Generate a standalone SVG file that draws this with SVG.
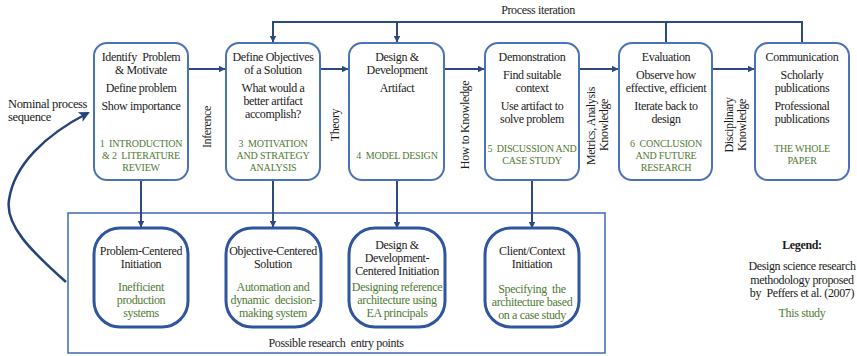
<svg xmlns="http://www.w3.org/2000/svg" width="857" height="356" viewBox="0 0 857 356" font-family="'Liberation Serif', 'Times New Roman', 'DejaVu Serif', serif">
<defs>
<marker id="ah" markerWidth="7" markerHeight="7" refX="6.5" refY="3.5" orient="auto" markerUnits="userSpaceOnUse">
<path d="M0,0 L7,3.5 L0,7 Z" fill="#2C4A80"/>
</marker>
<marker id="ahb" markerWidth="11" markerHeight="11" refX="9" refY="5.5" orient="auto" markerUnits="userSpaceOnUse">
<path d="M0,0 L11,5.5 L0,11 L3,5.5 Z" fill="#25427A"/>
</marker>
</defs>
<style>
text{font-family:'Liberation Serif','Times New Roman',serif;font-size:12px;letter-spacing:-0.35px;fill:#1a1a1a;text-anchor:middle}
.g{fill:#4E7A32}
.gs{font-size:10px;letter-spacing:-0.2px;fill:#4E7A32}
.lb{font-weight:bold}
.st{text-anchor:start}
.box{fill:#fff;stroke:#4A72B8;stroke-width:2}
.rbox{fill:#fff;stroke:#2F55A0;stroke-width:3}
.frame{fill:none;stroke:#4A72B8;stroke-width:1.6}
.con{fill:none;stroke:#2C4A80;stroke-width:2}
</style>
<rect width="857" height="356" fill="#fff"/>

<g id="entry-frame">
<rect class="frame" x="68" y="213" width="537" height="140"/>
<text x="336" y="347">Possible research&#160; entry points</text>
</g>

<g id="connectors">
<path class="con" d="M273,43 V22 H802 V43"/>
<path class="con" d="M273,22 V42" marker-end="url(#ah)"/>
<path class="con" d="M397,22 V42" marker-end="url(#ah)"/>
<path class="con" d="M666,22 V43"/>
<path class="con" d="M188,69 H225" marker-end="url(#ah)"/>
<path class="con" d="M320,69 H348" marker-end="url(#ah)"/>
<path class="con" d="M444,69 H484" marker-end="url(#ah)"/>
<path class="con" d="M579,69 H618" marker-end="url(#ah)"/>
<path class="con" d="M712,69 H754" marker-end="url(#ah)"/>
<path class="con" d="M141,180 V227" marker-end="url(#ah)"/>
<path class="con" d="M273,180 V227" marker-end="url(#ah)"/>
<path class="con" d="M397,180 V228" marker-end="url(#ah)"/>
<path class="con" d="M532,180 V228" marker-end="url(#ah)"/>
<path fill="none" stroke="#25427A" stroke-width="2.5" d="M66,282 C30,250 5,225 9,200 C14,165 45,135 88,113" marker-end="url(#ahb)"/>
<text x="538" y="14">Process iteration</text>
<text class="st" x="8" y="108" style="font-size:12.5px">Nominal process</text>
<text class="st" x="8" y="121" style="font-size:12.5px">sequence</text>
<text transform="translate(211,127) rotate(-90)">Inference</text>
<text transform="translate(339,125) rotate(-90)">Theory</text>
<text transform="translate(469,125) rotate(-90)">How to Knowledge</text>
<text transform="translate(595,126) rotate(-90)">Metrics, Analysis</text>
<text transform="translate(608,125) rotate(-90)">Knowledge</text>
<text transform="translate(733,125) rotate(-90)">Disciplinary</text>
<text transform="translate(746,125) rotate(-90)">Knowledge</text>
</g>

<g id="identify">
<rect class="box" x="94" y="43" width="94" height="137" rx="13"/>
<text x="141" y="61">Identify&#160; Problem</text>
<text x="141" y="74">&amp; Motivate</text>
<text x="141" y="92">Define problem</text>
<text x="141" y="110">Show importance</text>
<text class="gs" x="141" y="147">1&#160; INTRODUCTION</text>
<text class="gs" x="141" y="159">&amp; 2&#160; LITERATURE</text>
<text class="gs" x="141" y="171">REVIEW</text>
</g>

<g id="objectives">
<rect class="box" x="226" y="43" width="94" height="137" rx="13"/>
<text x="273" y="61">Define Objectives</text>
<text x="273" y="74">of a Solution</text>
<text x="273" y="92">What would a</text>
<text x="273" y="105">better artifact</text>
<text x="273" y="118">accomplish?</text>
<text class="gs" x="273" y="147">3&#160; MOTIVATION</text>
<text class="gs" x="273" y="159">AND STRATEGY</text>
<text class="gs" x="273" y="171">ANALYSIS</text>
</g>

<g id="design">
<rect class="box" x="349" y="43" width="95" height="137" rx="13"/>
<text x="397" y="61">Design &amp;</text>
<text x="397" y="74">Development</text>
<text x="397" y="92">Artifact</text>
<text class="gs" x="397" y="159">4&#160; MODEL DESIGN</text>
</g>

<g id="demonstration">
<rect class="box" x="485" y="43" width="94" height="137" rx="13"/>
<text x="532" y="61">Demonstration</text>
<text x="532" y="79">Find suitable</text>
<text x="532" y="92">context</text>
<text x="532" y="110">Use artifact to</text>
<text x="532" y="123">solve problem</text>
<text class="gs" x="532" y="152">5&#160; DISCUSSION AND</text>
<text class="gs" x="532" y="164">CASE STUDY</text>
</g>

<g id="evaluation">
<rect class="box" x="619" y="43" width="93" height="137" rx="13"/>
<text x="666" y="61">Evaluation</text>
<text x="666" y="79">Observe how</text>
<text x="666" y="92">effective, efficient</text>
<text x="666" y="110">Iterate back to</text>
<text x="666" y="123">design</text>
<text class="gs" x="666" y="147">6&#160; CONCLUSION</text>
<text class="gs" x="666" y="159">AND FUTURE</text>
<text class="gs" x="666" y="171">RESEARCH</text>
</g>

<g id="communication">
<rect class="box" x="755" y="43" width="94" height="137" rx="13"/>
<text x="802" y="61">Communication</text>
<text x="802" y="79">Scholarly</text>
<text x="802" y="92">publications</text>
<text x="802" y="110">Professional</text>
<text x="802" y="123">publications</text>
<text class="gs" x="802" y="152">THE WHOLE</text>
<text class="gs" x="802" y="164">PAPER</text>
</g>

<g id="problem-centered">
<rect class="rbox" x="94" y="228" width="94" height="99" rx="26"/>
<text x="141" y="255">Problem-Centered</text>
<text x="141" y="268">Initiation</text>
<text class="g" x="141" y="291">Inefficient</text>
<text class="g" x="141" y="304">production</text>
<text class="g" x="141" y="317">systems</text>
</g>

<g id="objective-centered">
<rect class="rbox" x="226" y="228" width="95" height="99" rx="26"/>
<text x="273" y="255">Objective-Centered</text>
<text x="273" y="268">Solution</text>
<text class="g" x="273" y="291">Automation and</text>
<text class="g" x="273" y="304">dynamic&#160; decision-</text>
<text class="g" x="273" y="317">making system</text>
</g>

<g id="design-centered">
<rect class="rbox" x="349" y="228" width="96" height="99" rx="26"/>
<text x="397" y="249">Design &amp;</text>
<text x="397" y="262">Development-</text>
<text x="397" y="275">Centered Initiation</text>
<text class="g" x="397" y="291">Designing reference</text>
<text class="g" x="397" y="304">architecture using</text>
<text class="g" x="397" y="317">EA principals</text>
</g>

<g id="client-centered">
<rect class="rbox" x="485" y="228" width="94" height="99" rx="26"/>
<text x="532" y="255">Client/Context</text>
<text x="532" y="268">Initiation</text>
<text class="g" x="532" y="293">Specifying&#160; the</text>
<text class="g" x="532" y="306">architecture based</text>
<text class="g" x="532" y="319">on a case study</text>
</g>

<g id="legend">
<text class="lb" x="802" y="249">Legend:</text>
<text x="802" y="270">Design science research</text>
<text x="802" y="284">methodology proposed</text>
<text x="802" y="297">by&#160; Peffers et al. (2007)</text>
<text class="g" x="802" y="317">This study</text>
</g>
</svg>
